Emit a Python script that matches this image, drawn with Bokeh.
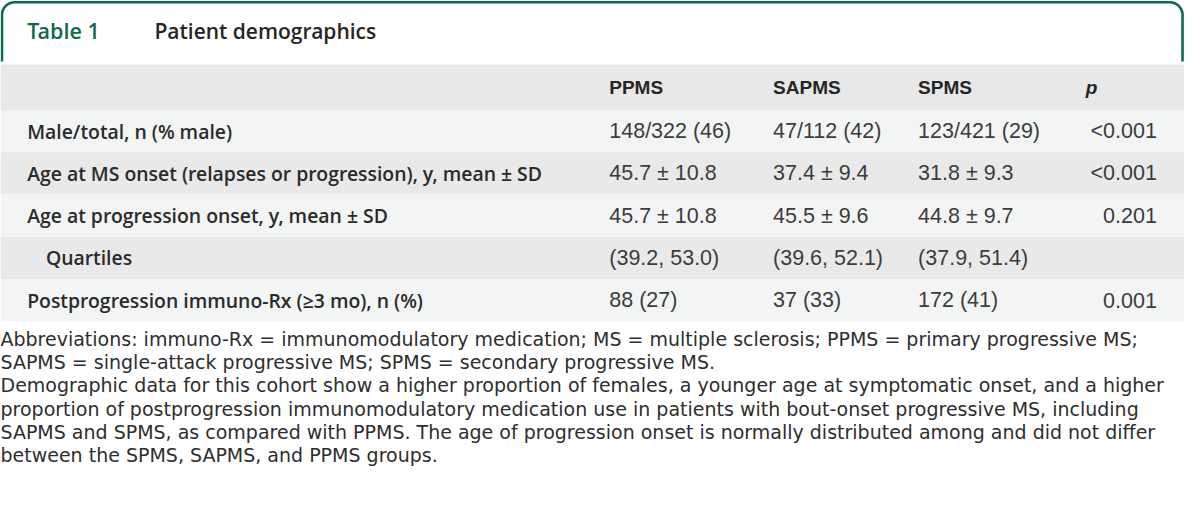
import numpy as np
from bokeh.plotting import figure
from bokeh.models import Range1d
from bokeh.core.properties import value
from bokeh.embed import file_html
from bokeh.resources import INLINE

# ---------------- data ----------------
table_number = "Table 1"
table_title = "Patient demographics"
groups = ["PPMS", "SAPMS", "SPMS"]
p_header = "p"
row_labels = [
    "Male/total, n (% male)",
    "Age at MS onset (relapses or progression), y, mean \u00b1 SD",
    "Age at progression onset, y, mean \u00b1 SD",
    "Quartiles",
    "Postprogression immuno-Rx (\u22653 mo), n (%)",
]
row_indent = [0, 0, 0, 1, 0]
ppms = ["148/322 (46)", "45.7 \u00b1 10.8", "45.7 \u00b1 10.8", "(39.2, 53.0)", "88 (27)"]
sapms = ["47/112 (42)", "37.4 \u00b1 9.4", "45.5 \u00b1 9.6", "(39.6, 52.1)", "37 (33)"]
spms = ["123/421 (29)", "31.8 \u00b1 9.3", "44.8 \u00b1 9.7", "(37.9, 51.4)", "172 (41)"]
p_values = ["<0.001", "<0.001", "0.201", "", "0.001"]
footnote_lines = [
    "Abbreviations: immuno-Rx = immunomodulatory medication; MS = multiple sclerosis; PPMS = primary progressive MS;",
    "SAPMS = single-attack progressive MS; SPMS = secondary progressive MS.",
    "Demographic data for this cohort show a higher proportion of females, a younger age at symptomatic onset, and a higher",
    "proportion of postprogression immunomodulatory medication use in patients with bout-onset progressive MS, including",
    "SAPMS and SPMS, as compared with PPMS. The age of progression onset is normally distributed among and did not differ",
    "between the SPMS, SAPMS, and PPMS groups.",
]

# ---------------- layout (reference pixel space 1200 x 521) ----------------
W, H = 1184, 505
GREEN = "#0d6b46"
HEAD_GRAY = "#e8e8e8"
ROW_LIGHT = "#f3f4f4"
ROW_DARK = "#e9e9e9"
SEMI = value("'Open Sans SemiBold', 'Open Sans'")

p = figure(width=W, height=H, x_range=Range1d(0, 1200), y_range=Range1d(521, 0),
           output_backend="svg", toolbar_location=None, min_border=0,
           x_axis_location=None, y_axis_location=None)
p.grid.visible = False
p.outline_line_color = None
p.background_fill_color = "white"
p.border_fill_color = "white"

# title box with rounded top corners
r = 13.0
xl, xr, yt, yb = 1.5, 1198.0, 1.8, 63.0
t = np.linspace(np.pi, 1.5 * np.pi, 20)
left_arc_x = xl + r + r * np.cos(t)
left_arc_y = yt + r + r * np.sin(t)
t2 = np.linspace(1.5 * np.pi, 2 * np.pi, 20)
right_arc_x = xr - r + r * np.cos(t2)
right_arc_y = yt + r + r * np.sin(t2)
bx = np.concatenate([[xl], left_arc_x, right_arc_x, [xr]])
by = np.concatenate([[yb], left_arc_y, right_arc_y, [yb]])
p.line(bx, by, line_color=GREEN, line_width=2.6)

p.text(x=[27], y=[31], text=[table_number], text_font=SEMI, text_font_style="bold",
       text_font_size="21.5px", text_color=GREEN, text_baseline="middle")
p.text(x=[156], y=[31], text=[table_title], text_font=SEMI, text_font_style="bold",
       text_font_size="21px", text_color="#262626", text_baseline="middle")

# bands
header_top, header_bot = 66, 113
row_h = 43.6
n = len(row_labels)
tops = [header_bot + i * row_h for i in range(n)]
bots = [header_bot + (i + 1) * row_h for i in range(n)]
cols = [ROW_LIGHT if i % 2 == 0 else ROW_DARK for i in range(n)]
p.quad(left=[0], right=[1200], top=[header_top], bottom=[header_bot], fill_color=HEAD_GRAY, line_color=None)
p.quad(left=[0] * n, right=[1200] * n, top=tops, bottom=bots, fill_color=cols, line_color=None)

# header
col_x = [617, 783, 930]
header_y = (header_top + header_bot) / 2
p.text(x=col_x, y=[header_y] * 3, text=groups, text_font=value("Liberation Sans"), text_font_style="bold",
       text_font_size="19px", text_color="#262626", text_baseline="middle")
p.text(x=[1100], y=[header_y], text=[p_header], text_font=value("Liberation Sans"), text_font_style="bold italic",
       text_font_size="19px", text_color="#262626", text_baseline="middle")

# rows
row_y = [(a + b) / 2 for a, b in zip(tops, bots)]
label_x = [27 + 19 * k for k in row_indent]
p.text(x=label_x, y=row_y, text=row_labels, text_font=SEMI, text_font_style="bold",
       text_font_size="19.4px", text_color="#2b2b2b", text_baseline="middle")
for cx, vals in zip(col_x, [ppms, sapms, spms]):
    p.text(x=[cx] * n, y=row_y, text=vals, text_font=value("Liberation Sans"),
           text_font_size="21.5px", text_color="#3c3c3c", text_baseline="middle")
p.text(x=[1172] * n, y=row_y, text=p_values, text_font=value("Liberation Sans"),
       text_font_size="21.5px", text_color="#3c3c3c", text_baseline="middle", text_align="right")

# footnote
fy = [349 + 24 * i for i in range(len(footnote_lines))]
p.text(x=[0] * len(footnote_lines), y=fy, text=footnote_lines, text_font=value("DejaVu Sans"),
       text_font_size="19px", text_color="#2e2e2e", text_baseline="middle")

open("out.html", "w").write(file_html(p, INLINE))
